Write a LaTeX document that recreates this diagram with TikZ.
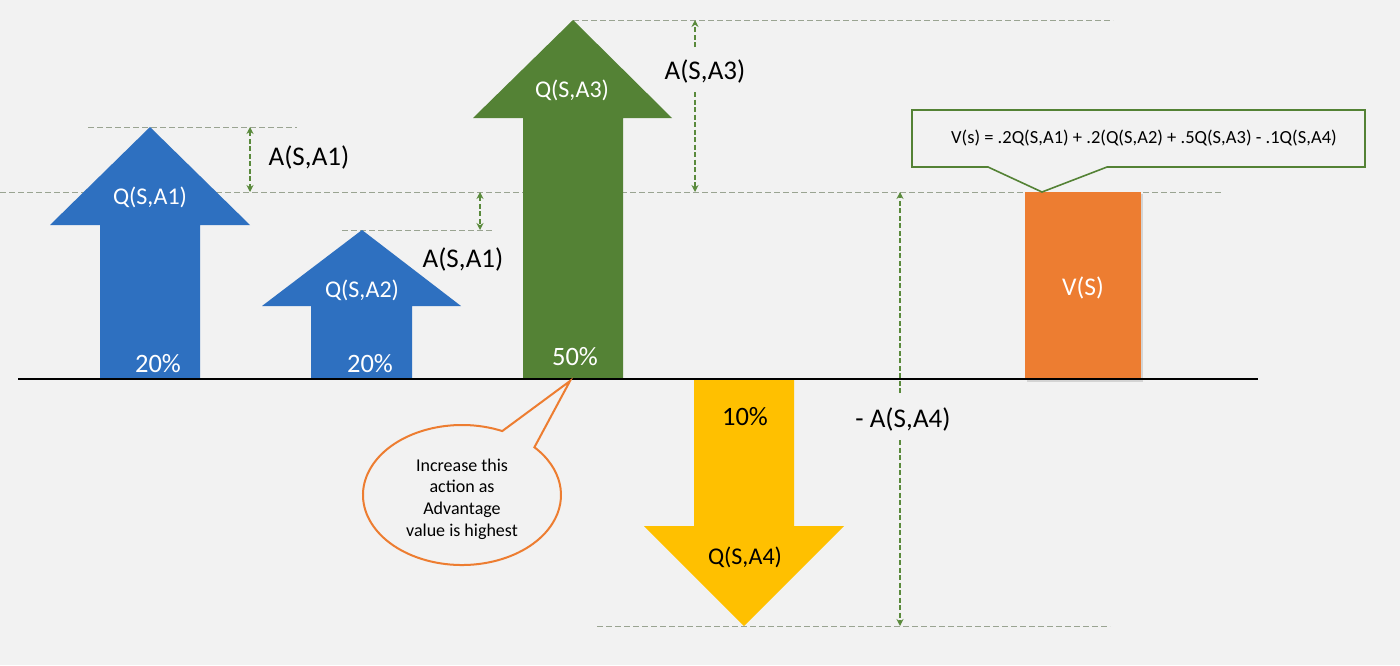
\documentclass[tikz,border=0pt]{standalone}
\usepackage{fontspec}
\setmainfont{Carlito}
\usetikzlibrary{arrows.meta,calc}
\definecolor{bgc}{HTML}{F2F2F2}
\definecolor{qblue}{HTML}{2E70C0}
\definecolor{qgreen}{HTML}{548235}
\definecolor{qyellow}{HTML}{FFC000}
\definecolor{qorange}{HTML}{ED7D31}
\definecolor{guidec}{HTML}{9AA492}
\definecolor{dimc}{HTML}{5A8A3C}
\tikzset{
  guide/.style={draw=guidec, line width=0.9pt, dash pattern=on 6pt off 3pt},
  dimline/.style={draw=dimc, line width=1.6pt, dash pattern=on 5pt off 2.5pt},
  dimtip/.style={-{Stealth[length=7pt,width=7pt]}},
  dimtips/.style={{Stealth[length=7pt,width=7pt]}-{Stealth[length=7pt,width=7pt]}},
  qlab/.style={text=white, font=\fontsize{24}{28}\selectfont, inner sep=0pt},
  plab/.style={text=white, font=\fontsize{26.5}{30}\selectfont, inner sep=0pt},
  alab/.style={text=black, font=\fontsize{27}{32}\selectfont, inner sep=0pt},
}
\begin{document}
\begin{tikzpicture}[x=1pt,y=-1pt]
\fill[bgc] (0,0) rectangle (1400,665);
\useasboundingbox (0,0) rectangle (1400,665);

% guide lines
\coordinate (g1a) at (88,127);  \coordinate (g1b) at (297,127);
\coordinate (g2a) at (0,192);   \coordinate (g2b) at (1222,192);
\coordinate (g3a) at (342,230); \coordinate (g3b) at (492,230);
\coordinate (g4a) at (573,20);  \coordinate (g4b) at (1113,20);
\coordinate (g5a) at (597,626); \coordinate (g5b) at (1110,626);
\draw[guide] (g1a) -- (g1b);
\draw[guide] (g2a) -- (g2b);
\draw[guide] (g3a) -- (g3b);
\draw[guide] (g4a) -- (g4b);
\draw[guide] (g5a) -- (g5b);

% arrows (shapes)
\fill[qblue] (100,379) -- (100,225) -- (50,225) -- (150,127) -- (250,225) -- (200,225) -- (200,379) -- cycle;
\fill[qblue] (311,379) -- (311,306) -- (262,306) -- (362,230) -- (461,306) -- (412,306) -- (412,379) -- cycle;
\fill[qgreen] (523,379) -- (523,118) -- (473,118) -- (573,20) -- (672,118) -- (623,118) -- (623,379) -- cycle;
\fill[qyellow] (694,379) -- (694,526) -- (644,526) -- (744,626) -- (844,526) -- (794,526) -- (794,379) -- cycle;

% V(S) box with shadow
\fill[black, opacity=0.12] (1027,194) rectangle (1143,382);
\fill[qorange] (1025,192) rectangle (1141,379);

% text in arrows
\node[qlab] (q1) at (150,197) {Q(S,A1)};
\node[plab] (p1) at (158,364) {20\%};
\node[qlab] (q2) at (362,290) {Q(S,A2)};
\node[plab] (p2) at (370,364) {20\%};
\node[qlab] (q3) at (572,90) {Q(S,A3)};
\node[plab] (p3) at (575,357) {50\%};
\node[qlab, text=black] (q4) at (745,557) {Q(S,A4)};
\node[plab, text=black] (p4) at (745,417) {10\%};
\node[qlab, font=\fontsize{25.5}{30}\selectfont] (vs) at (1083,288) {V(S)};

% labels
\node[alab] (la1) at (309,157) {A(S,A1)};
\node[alab] (la1b) at (463,259) {A(S,A1)};
\node[alab] (la3) at (705,71) {A(S,A3)};
\node[alab] (la4) at (903,419) {- A(S,A4)};

% dimension arrows
\coordinate (d1t) at (250,127); \coordinate (d1b) at (250,192);
\draw[dimline, dimtips] (d1t) -- (d1b);
\coordinate (d2t) at (480,192); \coordinate (d2b) at (480,230);
\draw[dimline, dimtips] (d2t) -- (d2b);
\coordinate (d3t) at (695,20); \coordinate (d3g1) at (695,47);
\coordinate (d3g2) at (695,92); \coordinate (d3b) at (695,192);
\draw[dimline, dimtip] (d3g1) -- (d3t);
\draw[dimline, dimtip] (d3g2) -- (d3b);
\coordinate (d4t) at (900,192); \coordinate (d4g1) at (900,393);
\coordinate (d4g2) at (900,440); \coordinate (d4b) at (900,626);
\draw[dimline, dimtip] (d4g1) -- (d4t);
\draw[dimline, dimtip] (d4g2) -- (d4b);

% baseline
\coordinate (bl) at (18,379); \coordinate (br) at (1258,379);
\draw[black, line width=2pt] (bl) -- (br);

% formula callout
\coordinate (ctip) at (1042,192);
\draw[qgreen, line width=1.6pt, fill=bgc, line join=miter]
  (912,110) -- (1365,110) -- (1365,167) -- (1107,167) -- (ctip) -- (988,167) -- (912,167) -- cycle;
\node[text=black, font=\fontsize{18.5}{22}\selectfont, inner sep=0pt] (formula) at (1144,138)
  {V(s) = .2Q(S,A1) + .2(Q(S,A2) + .5Q(S,A3) - .1Q(S,A4)};

% speech bubble
\coordinate (bc) at (462,495);
\coordinate (btip) at (570,381);
\draw[qorange, line width=2pt, fill=bgc, line join=miter]
  (btip) -- ($(bc)+(-66:99 and 70)$) arc[start angle=-66, end angle=-403, x radius=99, y radius=70] -- cycle;
\node[text=black, font=\fontsize{18}{21.7}\selectfont, align=center, inner sep=0pt] (bubbletext) at (462,499)
  {Increase this\\action as\\Advantage\\value is highest};
\end{tikzpicture}
\end{document}
